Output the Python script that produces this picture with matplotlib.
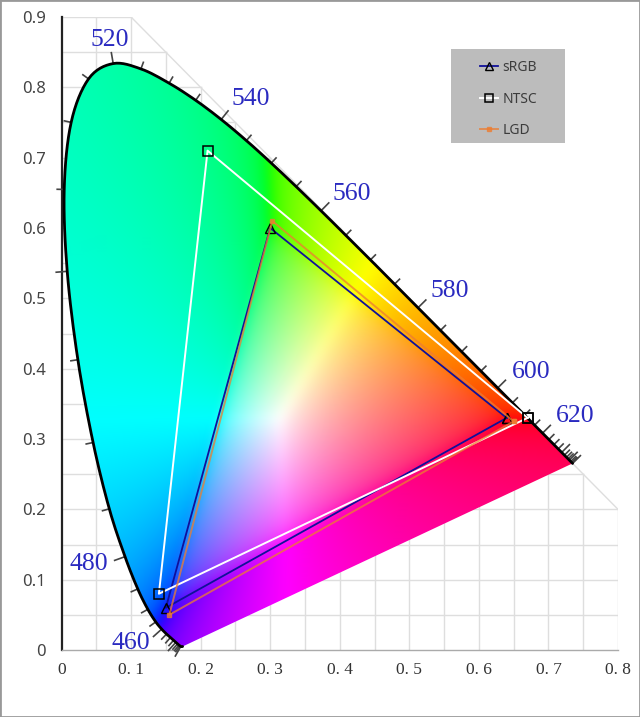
import numpy as np
import matplotlib
matplotlib.use("Agg")
import matplotlib.pyplot as plt
from matplotlib.patches import Polygon, Rectangle

wl = list(range(380, 685, 5))
loc_x = [.1741,.1740,.1738,.1736,.1733,.1730,.1726,.1721,.1714,.1703,.1689,.1669,.1644,.1611,.1566,.1510,.1440,.1355,.1241,.1096,.0913,.0687,.0454,.0235,.0082,.0039,.0139,.0389,.0743,.1142,.1547,.1929,.2296,.2658,.3016,.3373,.3731,.4087,.4441,.4788,.5125,.5448,.5752,.6029,.6270,.6482,.6658,.6801,.6915,.7006,.7079,.7140,.7190,.7230,.7260,.7283,.7300,.7320,.7334,.7340,.7347]
loc_y = [.0050,.0050,.0049,.0049,.0048,.0048,.0048,.0048,.0051,.0058,.0069,.0086,.0109,.0138,.0177,.0227,.0297,.0399,.0578,.0868,.1327,.2007,.2950,.4127,.5384,.6548,.7502,.8120,.8338,.8262,.8059,.7816,.7543,.7243,.6923,.6589,.6245,.5896,.5547,.5202,.4866,.4544,.4242,.3965,.3725,.3514,.3340,.3197,.3083,.2993,.2920,.2859,.2809,.2770,.2740,.2717,.2700,.2680,.2666,.2660,.2653]

srgb_x = [0.64, 0.30, 0.15, 0.64]
srgb_y = [0.33, 0.60, 0.06, 0.33]
ntsc_x = [0.67, 0.21, 0.14, 0.67]
ntsc_y = [0.33, 0.71, 0.08, 0.33]
lgd_x = [0.65, 0.303, 0.155, 0.65]
lgd_y = [0.325, 0.61, 0.05, 0.325]

label_wl = [460, 480, 520, 540, 560, 580, 600, 620]
label_x = [0.099, 0.0395, 0.070, 0.272, 0.417, 0.558, 0.675, 0.738]
label_y = [0.0105, 0.122, 0.867, 0.783, 0.649, 0.511, 0.395, 0.333]

x_ticks = [0, .1, .2, .3, .4, .5, .6, .7, .8]
x_labels = ["0", "0. 1", "0. 2", "0. 3", "0. 4", "0. 5", "0. 6", "0. 7", "0. 8"]
y_ticks = [0, .1, .2, .3, .4, .5, .6, .7, .8, .9]
y_labels = ["0", "0.1", "0.2", "0.3", "0.4", "0.5", "0.6", "0.7", "0.8", "0.9"]


def smooth(v, n=8):
    """Catmull-Rom curve through the given points, for a round outline."""
    p = np.concatenate([[v[0]], v, [v[-1]]])
    t = np.linspace(0, 1, n, endpoint=False)[:, None]
    out = []
    for i in range(1, len(p)-2):
        a, b, c, d = p[i-1], p[i], p[i+1], p[i+2]
        out.append((0.5*((2*b) + (c-a)*t + (2*a-5*b+4*c-d)*t**2 + (3*b-a-3*c+d)*t**3)).ravel())
    return np.concatenate(out + [[v[-1]]])


def box(a, r, axis):
    """Box blur along one axis, for a soft colour ramp."""
    pad = [(0, 0)]*a.ndim
    pad[axis] = (r+1, r)
    c = np.cumsum(np.pad(a, pad, mode="edge"), axis=axis)
    n = a.shape[axis]
    return (np.take(c, range(2*r+1, n+2*r+1), axis=axis) - np.take(c, range(0, n), axis=axis))/(2*r+1)


W, H = 640, 717
fig = plt.figure(figsize=(W/100, H/100), dpi=100, facecolor="white")
ax = fig.add_axes([61.5/W, (H-650)/H, 556.5/W, 633/H])
ax.set_xlim(0, .8)
ax.set_ylim(0, .9)

# grid inside x+y<=1
gc = "#dedede"
for g in np.arange(.05, .801, .05):
    ax.plot([g, g], [0, 1-g], color=gc, lw=1.0, zorder=1)
for g in np.arange(.05, .901, .05):
    ax.plot([0, 1-g], [g, g], color=gc, lw=1.0, zorder=1)
ax.plot([.1, .8], [.9, .2], color=gc, lw=1.0, zorder=1)

# chromaticity fill
xs = np.linspace(0, .8, 800)
ys = np.linspace(0, .9, 900)
gx, gy = np.meshgrid(xs, ys)
gy_safe = np.maximum(gy, 5e-3)
X = gx/gy_safe; Y = np.ones_like(gx); Z = (1-gx-gy)/gy_safe
R = 3.2406*X - 1.5372*Y - 0.4986*Z
G = -0.9689*X + 1.8758*Y + 0.0415*Z
B = 0.0557*X - 0.2040*Y + 1.0570*Z
rgb = np.dstack([R, G, B])
rgb = rgb - np.minimum(rgb.min(axis=2, keepdims=True), 0)
rgb = rgb/np.maximum(rgb.max(axis=2, keepdims=True), 1e-6)
rgb = rgb**(1/2.2)
for _ in range(3):
    rgb = box(box(rgb, 6, 0), 6, 1)
rgb = np.clip(rgb, 0, 1)

lx, ly = np.array(loc_x), np.array(loc_y)
sx, sy = smooth(lx), smooth(ly)
im = ax.imshow(rgb, origin="lower", extent=[0, .8, 0, .9], aspect="auto", zorder=2, interpolation="bilinear")
poly = Polygon(np.column_stack([sx, sy]), closed=True, transform=ax.transData, fc="none", ec="none")
ax.add_patch(poly)
im.set_clip_path(poly)

# locus and wavelength ticks
ax.plot(sx, sy, color="black", lw=2.0, zorder=4, clip_on=False, solid_capstyle="round")
px = sx*695.6; py = sy*703.3
for i in range(8, len(wl)):
    j = min(i*8, len(sx)-2)
    tx, ty = px[j+1]-px[j-1], py[j+1]-py[j-1]
    n = np.hypot(tx, ty) or 1
    nx, ny = -ty/n, tx/n
    if nx*(px[j]-230) + ny*(py[j]-230) < 0:
        nx, ny = -nx, -ny
    L = 11 if wl[i] % 20 == 0 else 7
    ax.plot([lx[i], lx[i]+nx*L/695.6], [ly[i], ly[i]+ny*L/703.3], color="#444444", lw=1.2, zorder=3, clip_on=False)

l1, = ax.plot(srgb_x, srgb_y, color="#10109a", lw=1.3, marker="^", ms=7.5, mfc="none", mec="black", mew=1.0, zorder=5, label="sRGB")
l2, = ax.plot(ntsc_x, ntsc_y, color="white", lw=1.4, marker="s", ms=7, mfc="none", mec="black", mew=1.1, zorder=6, label="NTSC")
l3, = ax.plot(lgd_x, lgd_y, color="#ed7d31", lw=1.4, alpha=.75, marker="s", ms=3.5, zorder=7, label="LGD")

for w, x, y in zip(label_wl, label_x, label_y):
    ax.text(x, y, str(w), color="#2a2ac0", family="Liberation Serif", fontsize=18.5,
            ha="center", va="center", zorder=8, clip_on=False)

ax.set_xticks(x_ticks, x_labels, family="Liberation Serif", fontsize=12.5, color="#333333")
ax.set_yticks(y_ticks, y_labels, family="Noto Sans", fontsize=12, color="#444444")
ax.tick_params(axis="both", length=0)
ax.tick_params(axis="x", pad=9)
ax.tick_params(axis="y", pad=11)
for s in ("top", "right"):
    ax.spines[s].set_visible(False)
ax.spines["left"].set_linewidth(1.6)
ax.spines["left"].set_color("#222222")
ax.spines["bottom"].set_linewidth(1.0)
ax.spines["bottom"].set_color("#aaaaaa")

# legend panel
ax.add_patch(Rectangle((451/W, (H-143)/H), 114/W, 94/H, transform=fig.transFigure, fc="#bcbcbc", ec="none", zorder=10, clip_on=False))
leg = ax.legend(handles=[l1, l2, l3], loc="upper left", bbox_to_anchor=(480/W, (H-60)/H), bbox_transform=fig.transFigure,
                frameon=False, borderpad=0, borderaxespad=0, handlelength=1.3, handletextpad=.3, labelspacing=1.2,
                prop={"family": "Noto Sans", "size": 10}, numpoints=1, markerscale=.75)
leg.set_zorder(11)
for t in leg.get_texts():
    t.set_color("#3c3c3c")
fig.add_artist(Rectangle((0, 0), 1, 1, transform=fig.transFigure, fill=False, ec="#999999", lw=2))
fig.savefig("out.png", dpi=100)
